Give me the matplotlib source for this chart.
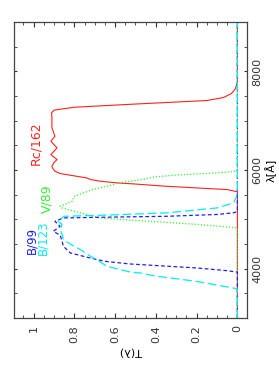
import matplotlib
matplotlib.use('Agg')
import matplotlib.pyplot as plt
from matplotlib.ticker import MultipleLocator

# filter transmission curves (wavelength in Angstrom, transmission)
lam_rc = [3000, 5560, 5605, 5672, 5720, 5740, 5773, 5808, 5842, 5930, 5977, 6030, 6078,
          6150, 6214, 6315, 6451, 6586, 6687, 6857, 7060, 7160, 7215, 7240, 7275,
          7344, 7411, 7470, 7550, 7635, 7770, 9000]
t_rc = [0, 0, 0.05, 0.35, 0.51, 0.59, 0.67, 0.72, 0.74, 0.87, 0.895, 0.905, 0.91,
        0.90, 0.885, 0.915, 0.885, 0.915, 0.895, 0.91, 0.91, 0.912, 0.90, 0.86, 0.80,
        0.48, 0.15, 0.07, 0.03, 0.012, 0, 0]

lam_v = [3000, 4800, 4830, 4894, 4981, 5030, 5132, 5233, 5267, 5300, 5368, 5436,
         5469, 5604, 5706, 5740, 5808, 5860, 5900, 5935, 5965, 5990, 9000]
t_v = [0, 0, 0.005, 0.18, 0.51, 0.674, 0.77, 0.86, 0.87, 0.85, 0.81, 0.805,
       0.80, 0.71, 0.61, 0.59, 0.47, 0.41, 0.30, 0.14, 0.03, 0, 0]

lam_b99 = [3000, 3930, 3960, 4015, 4096, 4150, 4218, 4320, 4455, 4590, 4680, 4758,
           4860, 4961, 5030, 5043, 5063, 5100, 5132, 5160, 9000]
t_b99 = [0, 0, 0.05, 0.2, 0.527, 0.65, 0.723, 0.82, 0.854, 0.862, 0.87, 0.903,
         0.87, 0.895, 0.854, 0.674, 0.347, 0.1, 0.02, 0, 0]

lam_b123 = [3000, 3575, 3600, 3743, 3850, 3914, 3934, 4048, 4184, 4250, 4387, 4500,
            4590, 4700, 4792, 4900, 4961, 5063, 5083, 5132, 5233, 5335, 5450, 5540, 9000]
t_b123 = [0, 0, 0.01, 0.2, 0.4, 0.478, 0.527, 0.64, 0.69, 0.72, 0.77, 0.82,
          0.854, 0.86, 0.87, 0.86, 0.88, 0.85, 0.674, 0.347, 0.1, 0.02, 0.005, 0, 0]

fig = plt.figure(figsize=(2.79, 3.74), dpi=100)
ax = fig.add_axes([0.0502, 0.1497, 0.835, 0.791])

# plot is drawn rotated: transmission runs horizontally, wavelength vertically
ax.plot(t_rc, lam_rc, color='#ff2020', lw=0.8)
ax.plot(t_v, lam_v, color='#33ee33', lw=0.9, dashes=(1, 1.5))
ax.plot(t_b99, lam_b99, color='#2020ee', lw=0.9, dashes=(3, 2))
ax.plot(t_b123, lam_b123, color='#00eeee', lw=0.9, dashes=(7, 3))

ax.set_xlim(1.096, -0.047)
ax.set_ylim(3000, 9000)

ax.xaxis.set_minor_locator(MultipleLocator(0.05))
ax.set_xticks([0, 0.2, 0.4, 0.6, 0.8, 1.0])
ax.set_xticklabels(['0', '0.2', '0.4', '0.6', '0.8', '1'])
ax.yaxis.set_major_locator(MultipleLocator(2000))
ax.yaxis.set_minor_locator(MultipleLocator(500))
ax.yaxis.tick_right()
ax.yaxis.set_label_position('right')

ax.tick_params(axis='x', which='both', direction='in', top=True, bottom=True,
               labelrotation=90, labelsize=8, pad=5, colors='#333333')
ax.tick_params(axis='x', which='major', length=3.5)
ax.tick_params(axis='x', which='minor', length=2)
ax.tick_params(axis='y', which='both', direction='in', left=True, right=True,
               length=2.5, labelsize=8, pad=4, colors='#333333')
for lab in ax.get_yticklabels():
    lab.set_rotation(90)
    lab.set_va('center')

for s in ax.spines.values():
    s.set_color('#444444')
    s.set_linewidth(0.9)

ax.set_xlabel('T(λ)', rotation=180, fontsize=8, labelpad=3)
ax.set_ylabel('λ[Å]', rotation=90, fontsize=8, labelpad=2)

ax.text(0.99, 6110, 'Rc/162', color='#ff2020', fontsize=9, rotation=90,
        rotation_mode='anchor', ha='left', va='center')
ax.text(0.933, 5130, 'V/89', color='#33ee33', fontsize=9, rotation=90,
        rotation_mode='anchor', ha='left', va='center')
ax.text(1.01, 4300, 'B/99', color='#2020ee', fontsize=8.5, rotation=90,
        rotation_mode='anchor', ha='left', va='center')
ax.text(0.952, 4280, 'B/123', color='#00eeee', fontsize=8.5, rotation=90,
        rotation_mode='anchor', ha='left', va='center')

plt.savefig('out.png', dpi=100)
